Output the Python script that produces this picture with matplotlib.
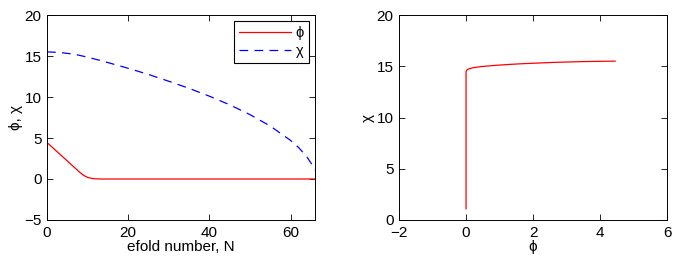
import matplotlib.pyplot as plt

plt.rcParams["font.family"] = ["Liberation Sans", "DejaVu Sans"]
plt.rcParams["font.size"] = 11

# efold number and field values
efolds = [0, 2, 4, 6, 7, 8, 9, 10, 11, 12, 13, 15, 20, 25, 30, 35, 40, 45, 50, 55, 60, 62, 64, 65, 66]
phi = [4.45, 3.55, 2.65, 1.75, 1.3, 0.85, 0.45, 0.2, 0.07, 0.02, 0.0, 0.0, 0.0, 0.0, 0.0,
       0.0, 0.0, 0.0, 0.0, 0.0, 0.0, 0.0, 0.0, 0.0, 0.0]
chi = [15.5, 15.46, 15.38, 15.26, 15.18, 15.08, 14.97, 14.85, 14.73, 14.6, 14.47, 14.2, 13.5,
       12.75, 11.92, 11.05, 10.1, 9.05, 7.85, 6.45, 4.7, 3.82, 2.7, 1.95, 1.1]


def style_axes(ax):
    ax.tick_params(direction="in", top=True, right=True, length=4, width=0.6, pad=4)
    for spine in ax.spines.values():
        spine.set_linewidth(0.7)


fig = plt.figure(figsize=(6.77, 2.61), dpi=100)

ax1 = fig.add_axes([0.0694, 0.1571, 0.3959, 0.7854])
ax1.plot(efolds, phi, color="red", lw=0.9, label="ϕ")
ax1.plot(efolds, chi, color="blue", lw=0.9, ls=(0, (7, 5)), label="χ")
ax1.set_xlim(0, 66)
ax1.set_ylim(-5, 20)
ax1.set_xticks([0, 20, 40, 60])
ax1.set_yticks([-5, 0, 5, 10, 15, 20])
ax1.set_xlabel("efold number, N", labelpad=0)
ax1.set_ylabel("ϕ, χ", labelpad=1)
leg = ax1.legend(loc="upper right", fancybox=False, edgecolor="black", framealpha=1,
                 handlelength=3.6, borderpad=0.35, handletextpad=0.3, labelspacing=0.3,
                 borderaxespad=0.4, fontsize=10.5)
leg.get_frame().set_linewidth(0.8)
style_axes(ax1)

ax2 = fig.add_axes([0.5894, 0.1571, 0.3959, 0.7854])
ax2.plot(phi, chi, color="red", lw=0.9)
ax2.set_xlim(-2, 6)
ax2.set_ylim(0, 20)
ax2.set_xticks([-2, 0, 2, 4, 6])
ax2.set_yticks([0, 5, 10, 15, 20])
ax2.set_xlabel("ϕ", labelpad=0)
ax2.set_ylabel("χ", labelpad=1)
style_axes(ax2)

fig.savefig("out.png", dpi=100)
